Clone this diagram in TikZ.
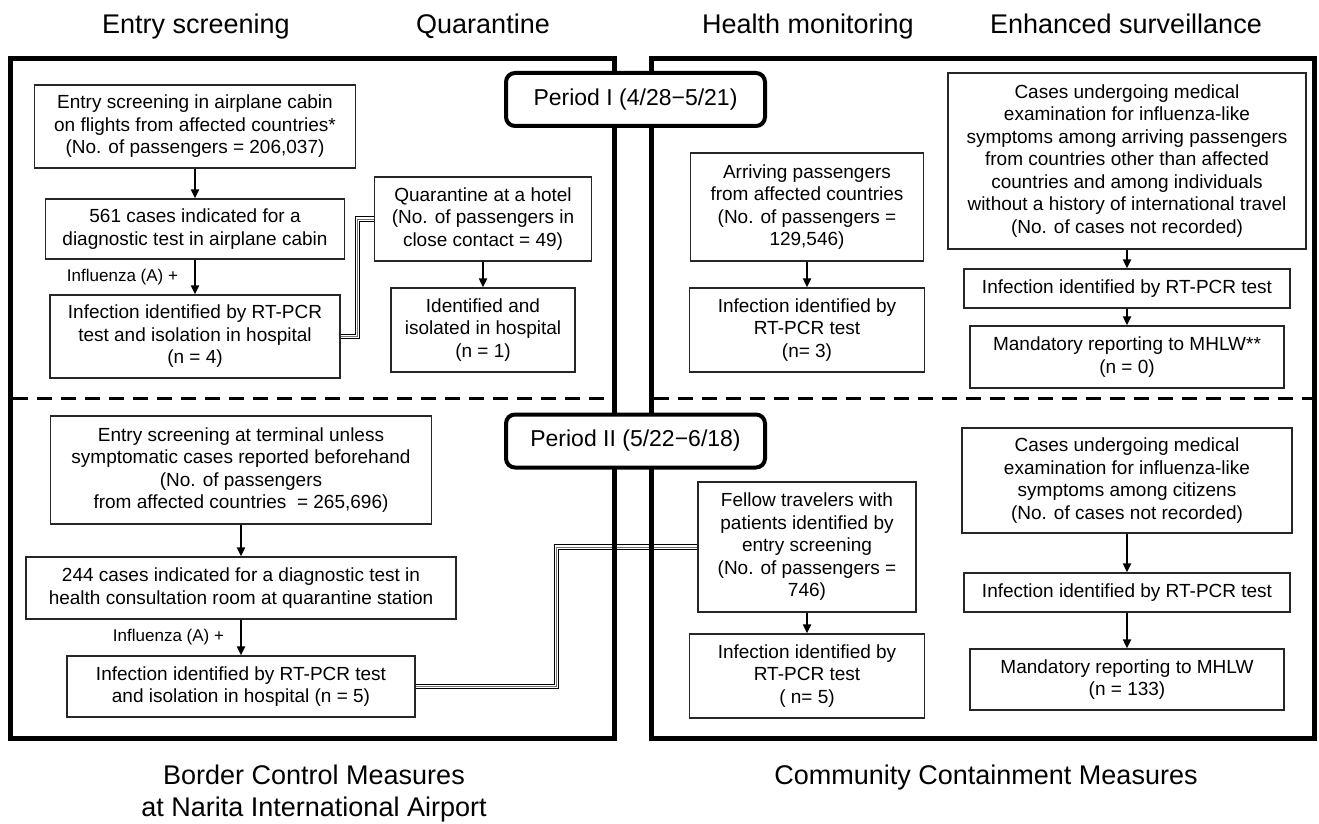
\documentclass[tikz,border=0pt]{standalone}
\usepackage{fontspec}
\setmainfont{Liberation Sans}
\usetikzlibrary{positioning,arrows.meta}

\begin{document}
\begin{tikzpicture}[x=1pt, y=-1pt,
        box/.style={rectangle, draw=black!85, line width=1.3pt, fill=white, align=center, inner sep=0pt, font=\fontsize{19}{22.5}\selectfont},
        period/.style={rectangle, rounded corners=9pt, draw=black, line width=4pt, fill=white, minimum width=259pt, minimum height=53pt, font=\fontsize{23}{27}\selectfont},
        panel/.style={draw=black, line width=5pt},
        divider/.style={black, line width=3pt, dash pattern=on 15pt off 9pt},
        flow/.style={-{Triangle[length=9pt,width=8pt]}, line width=2pt},
        link/.style={draw=white, line width=3.2pt, preaction={draw=black, line width=5.6pt}, postaction={draw=black!55, line width=1pt}},
        head/.style={anchor=base, font=\fontsize{27}{32}\selectfont},
        lbl/.style={inner sep=0pt, font=\fontsize{17}{20}\selectfont}
    ]
        \useasboundingbox (0,0) rectangle (1319,824);

        % Column headings
        \node[head] (hentry) at (196,33.5) {Entry screening};
        \node[head] (hquar) at (483,33.5) {Quarantine};
        \node[head] (hhealth) at (808,33.5) {Health monitoring};
        \node[head] (henh) at (1126,33.5) {Enhanced surveillance};

        % Border control, period I
        \node[box, minimum width=321pt, minimum height=83pt] (a1) at (195,126.5) {Entry screening in airplane cabin\\on flights from affected countries*\\(No. of passengers = 206,037)};
        \node[box, minimum width=299pt, minimum height=60pt] (a2) at (195,229) {561 cases indicated for a\\diagnostic test in airplane cabin};
        \node[box, minimum width=290pt, minimum height=83pt] (a3) at (195,336.5) {Infection identified by RT-PCR\\test and isolation in hospital\\(n = 4)};
        \node[box, minimum width=217pt, minimum height=84pt] (q1) at (483,219) {Quarantine at a hotel\\(No. of passengers in\\close contact = 49)};
        \node[box, minimum width=184pt, minimum height=84pt] (q2) at (483,330) {Identified and\\isolated in hospital\\(n = 1)};

        % Border control, period II
        \node[box, minimum width=381pt, minimum height=108pt] (b1) at (241,470) {Entry screening at terminal unless\\symptomatic cases reported beforehand\\(No. of passengers\\from affected countries \ = 265,696)};
        \node[box, minimum width=430pt, minimum height=62pt] (b2) at (241,588) {244 cases indicated for a diagnostic test in\\health consultation room at quarantine station};
        \node[box, minimum width=348pt, minimum height=61pt] (b3) at (241,686.5) {Infection identified by RT-PCR test\\and isolation in hospital (n = 5)};

        % Community containment, period I
        \node[box, minimum width=233pt, minimum height=108pt] (h1) at (807,207) {Arriving passengers\\from affected countries\\(No. of passengers =\\129,546)};
        \node[box, minimum width=235pt, minimum height=84pt] (h2) at (807,330) {Infection identified by\\RT-PCR test\\(n= 3)};
        \node[box, minimum width=358pt, minimum height=176pt] (e1) at (1127,161) {Cases undergoing medical\\examination for influenza-like\\symptoms among arriving passengers\\from countries other than affected\\countries and among individuals\\without a history of international travel\\(No. of cases not recorded)};
        \node[box, minimum width=326pt, minimum height=39pt] (e2) at (1127,288.5) {Infection identified by RT-PCR test};
        \node[box, minimum width=314pt, minimum height=62pt] (e3) at (1127,357) {Mandatory reporting to MHLW**\\(n = 0)};

        % Community containment, period II
        \node[box, minimum width=218pt, minimum height=130pt] (f1) at (807,547) {Fellow travelers with\\patients identified by\\entry screening\\(No. of passengers =\\746)};
        \node[box, minimum width=235pt, minimum height=84pt] (f2) at (807,676) {Infection identified by\\RT-PCR test\\( n= 5)};
        \node[box, minimum width=330pt, minimum height=105pt] (g1) at (1127,480.5) {Cases undergoing medical\\examination for influenza-like\\symptoms among citizens\\(No. of cases not recorded)};
        \node[box, minimum width=326pt, minimum height=39pt] (g2) at (1127,592.5) {Infection identified by RT-PCR test};
        \node[box, minimum width=314pt, minimum height=61pt] (g3) at (1127,679.5) {Mandatory reporting to MHLW\\(n = 133)};

        % Arrows
        \draw[flow] (a1) -- (a2);
        \draw[flow] (a2) -- node[lbl, left=16pt] {Influenza (A) +} (a3);
        \draw[flow] (q1) -- (q2);
        \draw[flow] (b1) -- (b2);
        \draw[flow] (b2) -- node[lbl, left=16pt] {Influenza (A) +} (b3);
        \draw[flow] (h1) -- (h2);
        \draw[flow] (e1) -- (e2);
        \draw[flow] (e2) -- (e3);
        \draw[flow] (f1) -- (f2);
        \draw[flow] (g1) -- (g2);
        \draw[flow] (g2) -- (g3);

        % Links to close contacts
        \draw[link] (a3.east) -- ++(17,0) |- (q1.west);
        \draw[link] (b3.east) -- ++(141,0) |- (f1.west);

        % Panels
        \draw[panel] (10.5,58.5) rectangle (614.5,738);
        \draw[panel] (651.5,58.5) rectangle (1314.5,738);
        \draw[divider] (13,398) -- (612,398);
        \draw[divider] (654,398) -- (1312,398);

        % Periods
        \node[period] (p1) at (635.5,99.5) {Period I (4/28−5/21)};
        \node[period] (p2) at (635.5,441) {Period II (5/22−6/18)};

        % Panel titles
        \node[head, anchor=center, align=center] (tborder) at (314,794) {Border Control Measures\\at Narita International Airport};
        \node[head, anchor=center] (tcomm) at (986,778) {Community Containment Measures};
    \end{tikzpicture}
\end{document}
